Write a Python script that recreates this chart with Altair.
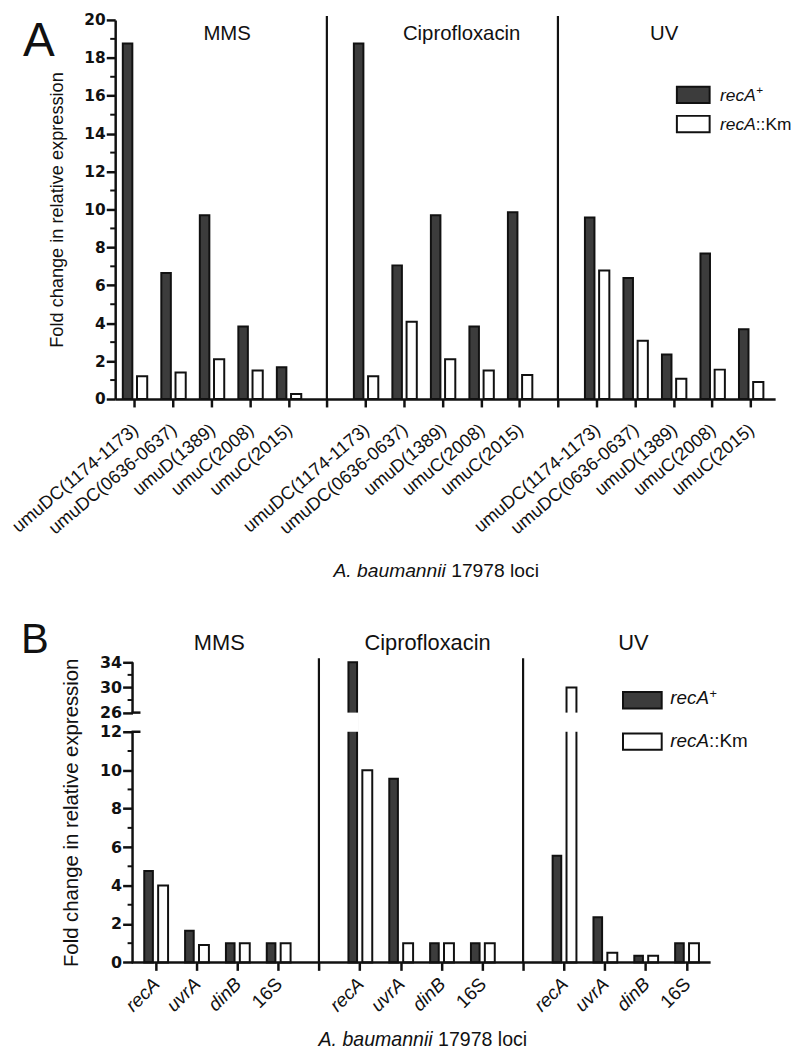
import altair as alt
import pandas as pd

# ---------------- values ----------------
treatments = ["MMS", "Ciprofloxacin", "UV"]
strains = ["recA+", "recA::Km"]

# Panel A
a_loci = ["umuDC(1174-1173)", "umuDC(0636-0637)", "umuD(1389)", "umuC(2008)", "umuC(2015)"]
a_loci_italic = [False, False, False, False, False]
a_mms_recA = [18.75, 6.65, 9.70, 3.82, 1.67]
a_mms_km = [1.20, 1.40, 2.10, 1.50, 0.27]
a_cip_recA = [18.75, 7.05, 9.70, 3.82, 9.85]
a_cip_km = [1.20, 4.07, 2.10, 1.50, 1.27]
a_uv_recA = [9.57, 6.38, 2.35, 7.68, 3.68]
a_uv_km = [6.78, 3.07, 1.07, 1.55, 0.90]
a_y_major = [0, 2, 4, 6, 8, 10, 12, 14, 16, 18, 20]
a_y_minor = [1, 3, 5, 7, 9, 11, 13, 15, 17, 19]

# Panel B
b_loci = ["recA", "uvrA", "dinB", "16S"]
b_loci_italic = [True, True, True, False]
b_mms_recA = [4.75, 1.65, 1.00, 1.00]
b_mms_km = [4.00, 0.90, 1.00, 1.00]
b_cip_recA = [34.0, 9.55, 1.00, 1.00]
b_cip_km = [10.0, 1.00, 1.00, 1.00]
b_uv_recA = [5.55, 2.35, 0.35, 1.00]
b_uv_km = [30.0, 0.50, 0.35, 1.00]
b_y_major = [0, 2, 4, 6, 8, 10, 12, 26, 30, 34]
b_y_minor = [1, 3, 5, 7, 9, 11, 28, 32]
b_y_break = [12, 26]
b_y_top = 34

x_title_italic = "A. baumannii"
x_title_plain = "17978 loci"
y_title = "Fold change in relative expression"

# ---------------- layout / style ----------------
FONT = "Liberation Sans, Arial, Helvetica, sans-serif"
NUM_FONT = "DejaVu Sans, Liberation Sans, sans-serif"
INK = "#111111"
DARK = "#3c3c3c"
WHITE = "#ffffff"

WA, HA = 665, 382
A_DOM = [-0.497, 16.64]
A_PX = WA / (A_DOM[1] - A_DOM[0])
WB, HB = 600, 302.4
B_DOM = [-0.989, 13.592]
B_PX = WB / (B_DOM[1] - B_DOM[0])
B_AXIS_X = 17.5
B_Y_RANGE = [HB, 70.0, 50.7, 0]

ARIAL = {c: 556 for c in "0123456789abdegnopqu"}
ARIAL.update({"(": 333, ")": 333, "-": 333, " ": 278, ".": 278, ":": 278, "r": 333,
              "c": 500, "s": 500, "v": 500, "x": 500, "k": 500, "y": 500, "z": 500,
              "i": 222, "l": 222, "j": 222, "f": 278, "t": 278, "m": 833, "w": 722,
              "A": 667, "B": 667, "S": 667, "K": 667, "V": 667, "C": 722, "D": 722,
              "U": 722, "M": 833, "+": 584})


def tw(s, size):
    return sum(ARIAL.get(c, 556) for c in s) / 1000.0 * size


ONE = pd.DataFrame({"k": [0]})


def text_at(text, x, y, size, style="normal", align="left", weight="normal", baseline="alphabetic"):
    return alt.Chart(ONE).mark_text(
        text=text, font=FONT, fontSize=size, fontStyle=style, fontWeight=weight,
        align=align, baseline=baseline, color=INK,
    ).encode(x=alt.value(x), y=alt.value(y))


def box_at(x0, x1, y0, y1, fill):
    return alt.Chart(ONE).mark_rect(fill=fill, stroke=INK, strokeWidth=2).encode(
        x=alt.value(x0), x2=alt.value(x1), y=alt.value(y0), y2=alt.value(y1))


def bar_frame(groups, n):
    rows = []
    for t, (plus, km) in enumerate(groups):
        for i in range(n):
            slot = t * (n + 1) + i
            rows.append({"treatment": treatments[t], "slot": slot, "strain": strains[0], "value": plus[i]})
            rows.append({"treatment": treatments[t], "slot": slot, "strain": strains[1], "value": km[i]})
    return pd.DataFrame(rows)


def label_frame(names, italic, n, want_italic):
    rows = []
    for t in range(3):
        for i in range(n):
            if italic[i] == want_italic:
                rows.append({"slot": t * (n + 1) + i, "name": names[i]})
    return pd.DataFrame(rows)


def bar_offsets(px, dark_px, white_px):
    return (dark_px[0] / px, dark_px[1] / px), (white_px[0] / px, white_px[1] / px)


def panel_layers(df, names, italic, n, xs, ys, h, xaxis, yaxis, px, dark_px, white_px,
                 lab_size, lab_angle, lab_y, lab_dy, title_pos, title_y, title_size):
    d, w = bar_offsets(px, dark_px, white_px)
    bars = alt.Chart(df).transform_calculate(
        xl=f"datum.slot + (datum.strain == '{strains[0]}' ? {d[0]} : {w[0]})",
        xr=f"datum.slot + (datum.strain == '{strains[0]}' ? {d[1]} : {w[1]})",
    ).mark_rect(stroke=INK, strokeWidth=2).encode(
        x=alt.X("xl:Q", scale=xs, axis=xaxis),
        x2="xr:Q",
        y=alt.Y("value:Q", scale=ys, axis=yaxis),
        y2=alt.datum(0),
        fill=alt.Fill("strain:N", scale=alt.Scale(domain=strains, range=[DARK, WHITE]), legend=None),
    )
    layers = [bars]
    seps = pd.DataFrame({"slot": [(t + 1) * (n + 1) - 1 for t in range(2)]})
    layers.append(alt.Chart(seps).mark_rule(color=INK, strokeWidth=2.2).encode(
        x=alt.X("slot:Q", scale=xs, axis=xaxis), y=alt.value(-4), y2=alt.value(h)))
    tdf = pd.DataFrame({"name": treatments, "pos": title_pos})
    layers.append(alt.Chart(tdf).mark_text(font=FONT, fontSize=title_size, color=INK,
                                           baseline="alphabetic").encode(
        x=alt.X("pos:Q", scale=xs, axis=xaxis), y=alt.value(title_y), text="name:N"))
    for style in (False, True):
        lf = label_frame(names, italic, n, style)
        if len(lf) == 0:
            continue
        layers.append(alt.Chart(lf).mark_text(
            font=FONT, fontSize=lab_size, fontStyle="italic" if style else "normal",
            align="right", baseline="middle", angle=lab_angle, dy=lab_dy, color=INK).encode(
            x=alt.X("slot:Q", scale=xs, axis=xaxis), y=alt.value(lab_y), text="name:N"))
    return layers


def mixed_title(cx, y, size):
    total = tw(x_title_italic + " " + x_title_plain, size)
    split = cx - total / 2 + tw(x_title_italic, size)
    return [text_at(x_title_italic, split, y, size, style="italic", align="right"),
            text_at(x_title_plain, split + tw(" ", size), y, size, align="left")]


def legend(x_box, w_box, y_dark, y_white, h_box, x_text, base_dark, base_white, size):
    sup = size * 0.68
    return [
        box_at(x_box, x_box + w_box, y_dark, y_dark + h_box, DARK),
        box_at(x_box, x_box + w_box, y_white, y_white + h_box, WHITE),
        text_at("recA", x_text, base_dark, size, style="italic"),
        text_at("+", x_text + tw("recA", size) + 0.5, base_dark - size * 0.36, sup),
        text_at("recA", x_text, base_white, size, style="italic"),
        text_at("::Km", x_text + tw("recA", size), base_white, size),
    ]


# ---------------- panel A ----------------
xa = alt.Scale(domain=A_DOM, range=[0, WA], nice=False, zero=False)
ya = alt.Scale(domain=[0, 20], range=[HA, 0], nice=False, zero=False)
xaxis_a = alt.Axis(values=list(range(17)), labels=False, tickSize=8, tickWidth=2.5,
                   tickColor=INK, domainColor=INK, domainWidth=2.5, grid=False, title=None)
yaxis_a = alt.Axis(values=a_y_major, tickSize=9, tickWidth=2.5, tickColor=INK,
                   domainColor=INK, domainWidth=2.5, grid=False, labelFont=NUM_FONT,
                   labelFontSize=15.5, labelFontWeight="bold", labelColor=INK, labelPadding=1,
                   labelFlush=False, labelOverlap=False, title=y_title, titleFont=FONT,
                   titleFontSize=18.3, titleFontWeight="normal", titleColor=INK,
                   titleX=-58, titleY=HA / 2, titleAngle=270, titleAlign="center",
                   titleBaseline="middle")

df_a = bar_frame([(a_mms_recA, a_mms_km), (a_cip_recA, a_cip_km), (a_uv_recA, a_uv_km)], 5)
layers_a = panel_layers(df_a, a_loci, a_loci_italic, 5, xa, ya, HA, xaxis_a, yaxis_a, A_PX,
                        (-11.6, -2.0), (2.7, 13.0), 18.3, 320, HA + 27, 2.8,
                        [2.41, 8.5, 13.76], 20.3, 20.5)
layers_a.append(alt.Chart(pd.DataFrame({"v": a_y_minor})).mark_rule(color=INK, strokeWidth=2).encode(
    y=alt.Y("v:Q", scale=ya, axis=yaxis_a), x=alt.value(-5), x2=alt.value(0)))
layers_a += mixed_title(323.5, 561.3, 19.4)
layers_a += legend(566, 33, 67.3, 96.7, 16.4, 609.5, 81.3, 111.3, 17.5)
layers_a.append(text_at("A", -93, 36, 48))
layers_a.append(alt.Chart(ONE).mark_rule(strokeOpacity=0).encode(
    x=alt.value(-102), x2=alt.value(-101), y=alt.value(-4), y2=alt.value(-3)))
panel_a = alt.layer(*layers_a).properties(width=WA, height=HA)

# ---------------- panel B ----------------
xb = alt.Scale(domain=B_DOM, range=[0, WB], nice=False, zero=False)
yb = alt.Scale(domain=[0] + b_y_break + [b_y_top], range=B_Y_RANGE, nice=False, zero=False)
xaxis_b = alt.Axis(values=list(range(14)), labels=False, tickSize=8, tickWidth=2.5,
                   tickColor=INK, domain=False, grid=False, title=None)
yaxis_b = alt.Axis(values=b_y_major, offset=-B_AXIS_X, tickSize=10, tickWidth=2.5,
                   tickColor=INK, domain=False, grid=False, labelFont=NUM_FONT,
                   labelFontSize=16, labelFontWeight="bold", labelColor=INK, labelPadding=1,
                   labelFlush=False, labelOverlap=False, title=y_title, titleFont=FONT,
                   titleFontSize=20.5, titleFontWeight="normal", titleColor=INK,
                   titleX=-61.5, titleY=HB / 2, titleAngle=270, titleAlign="center",
                   titleBaseline="middle")

df_b = bar_frame([(b_mms_recA, b_mms_km), (b_cip_recA, b_cip_km), (b_uv_recA, b_uv_km)], 4)
layers_b = panel_layers(df_b, b_loci, b_loci_italic, 4, xb, yb, HB, xaxis_b, yaxis_b, B_PX,
                        (-11.4, -2.7), (2.6, 12.6), 19, 315, HB + 18, 1.4,
                        [1.56, 6.66, 11.7], -12.6, 22)
# white mask over the scale break for bars that cross it
d_b, w_b = bar_offsets(B_PX, (-13.0, -1.1), (1.0, 14.2))
layers_b.append(alt.Chart(df_b).transform_filter(f"datum.value > {b_y_break[1]}").transform_calculate(
    xl=f"datum.slot + (datum.strain == '{strains[0]}' ? {d_b[0]} : {w_b[0]})",
    xr=f"datum.slot + (datum.strain == '{strains[0]}' ? {d_b[1]} : {w_b[1]})",
    lo=str(b_y_break[0]), hi=str(b_y_break[1]),
).mark_rect(fill=WHITE, strokeOpacity=0).encode(
    x=alt.X("xl:Q", scale=xb, axis=xaxis_b), x2="xr:Q",
    y=alt.Y("lo:Q", scale=yb, axis=yaxis_b), y2="hi:Q"))
# broken axis line, break caps, minor ticks and baseline
seg = pd.DataFrame({"lo": [0, b_y_break[1]], "hi": [b_y_break[0], b_y_top]})
layers_b.append(alt.Chart(seg).mark_rule(color=INK, strokeWidth=2.5).encode(
    x=alt.value(B_AXIS_X), y=alt.Y("lo:Q", scale=yb, axis=yaxis_b), y2="hi:Q"))
layers_b.append(alt.Chart(pd.DataFrame({"v": b_y_break})).mark_rule(color=INK, strokeWidth=2.5).encode(
    y=alt.Y("v:Q", scale=yb, axis=yaxis_b), x=alt.value(B_AXIS_X - 1), x2=alt.value(B_AXIS_X + 8)))
layers_b.append(alt.Chart(pd.DataFrame({"v": b_y_minor})).mark_rule(color=INK, strokeWidth=2).encode(
    y=alt.Y("v:Q", scale=yb, axis=yaxis_b), x=alt.value(B_AXIS_X - 5), x2=alt.value(B_AXIS_X)))
layers_b.append(alt.Chart(ONE).mark_rule(color=INK, strokeWidth=2.5).encode(
    x=alt.value(B_AXIS_X - 1), x2=alt.value(WB), y=alt.value(HB)))
layers_b += mixed_title(310, 386.5, 19.7)
layers_b += legend(511.7, 39, 30, 71.7, 16.5, 559.3, 42.4, 85.7, 19)
layers_b.append(text_at("B", -95, -9.3, 42))
panel_b = alt.layer(*layers_b).properties(width=WB, height=HB)

chart = alt.vconcat(panel_a, panel_b, spacing=265.3, bounds="flush").properties(
    padding=0).configure_view(stroke="transparent")

chart.save("out.html", embed_options={"renderer": "svg", "actions": False})
